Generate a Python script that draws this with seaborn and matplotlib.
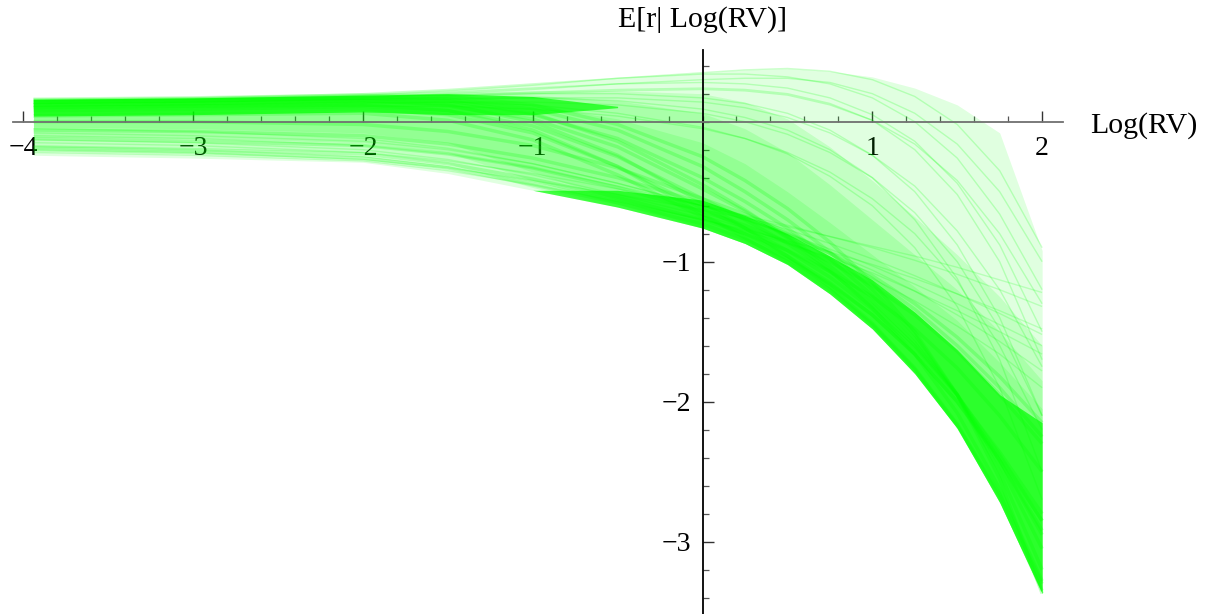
import numpy as np
import pandas as pd
import seaborn as sns
import matplotlib.pyplot as plt

log_rv = [-3.94, -3, -2, -1.5, -1, -0.5, 0, 0.25, 0.5, 0.75, 1, 1.25, 1.5, 1.75, 2]

# outline of the whole cloud of draws
envelope_top = [0.16, 0.17, 0.20, 0.23, 0.27, 0.31, 0.35, 0.37, 0.38, 0.36, 0.32, 0.24, 0.12, -0.08, -0.92]
envelope_bottom = [-0.24, -0.26, -0.29, -0.37, -0.49, -0.61, -0.76, -0.87, -1.02, -1.23, -1.48, -1.80, -2.19, -2.72, -3.37]

# where most draws lie, in three overlapping layers so the edge fades
body1_top = [0.16, 0.17, 0.19, 0.21, 0.22, 0.22, 0.20, 0.14, 0.02, -0.18, -0.42, -0.68, -0.95, -1.25, -1.60]
body1_bottom = [-0.18, -0.19, -0.22, -0.30, -0.47, -0.61, -0.76, -0.87, -1.02, -1.23, -1.48, -1.80, -2.19, -2.72, -3.37]
body2_top = [0.16, 0.17, 0.19, 0.20, 0.19, 0.15, 0.06, -0.05, -0.22, -0.45, -0.70, -0.95, -1.20, -1.50, -1.85]
body2_bottom = [-0.11, -0.12, -0.15, -0.22, -0.42, -0.59, -0.76, -0.87, -1.02, -1.23, -1.48, -1.80, -2.19, -2.72, -3.37]
body3_top = [0.16, 0.17, 0.18, 0.17, 0.12, 0.02, -0.15, -0.30, -0.50, -0.72, -0.95, -1.18, -1.42, -1.72, -2.05]
body3_bottom = [-0.04, -0.05, -0.08, -0.15, -0.36, -0.56, -0.76, -0.87, -1.02, -1.23, -1.48, -1.80, -2.19, -2.72, -3.37]

# saturated parts: flat top band on the left, lower band on the right
core_left_x = [-3.94, -3, -2, -1.5, -1, -0.5]
core_left_top = [0.16, 0.17, 0.19, 0.20, 0.18, 0.11]
core_left_bottom = [0.04, 0.05, 0.07, 0.05, 0.05, 0.10]
core_right_x = [-1, -0.5, 0, 0.25, 0.5, 0.75, 1, 1.25, 1.5, 1.75, 2]
core_right_top = [-0.49, -0.49, -0.56, -0.67, -0.80, -0.96, -1.13, -1.36, -1.63, -1.95, -2.15]
core_right_bottom = [-0.49, -0.61, -0.76, -0.87, -1.02, -1.23, -1.48, -1.80, -2.19, -2.72, -3.37]

# individual draws
dense_curves = [
    [0.16, 0.17, 0.19, 0.18, 0.12, -0.02, -0.25, -0.42, -0.62, -0.86, -1.15, -1.50, -1.95, -2.55, -3.37],
    [0.14, 0.15, 0.17, 0.16, 0.09, -0.06, -0.32, -0.50, -0.70, -0.93, -1.20, -1.52, -1.95, -2.50, -3.20],
    [0.12, 0.13, 0.15, 0.13, 0.05, -0.12, -0.40, -0.57, -0.76, -0.98, -1.24, -1.55, -1.95, -2.45, -3.05],
    [0.10, 0.11, 0.13, 0.11, 0.02, -0.18, -0.48, -0.64, -0.82, -1.03, -1.28, -1.58, -1.95, -2.42, -2.95],
    [0.08, 0.09, 0.11, 0.08, -0.03, -0.25, -0.55, -0.70, -0.87, -1.07, -1.31, -1.60, -1.95, -2.38, -2.85],
    [0.06, 0.07, 0.09, 0.05, -0.08, -0.32, -0.62, -0.76, -0.92, -1.11, -1.34, -1.62, -1.96, -2.36, -2.80],
    [0.04, 0.05, 0.06, 0.01, -0.13, -0.38, -0.68, -0.80, -0.96, -1.15, -1.38, -1.66, -2.00, -2.40, -2.85],
    [0.14, 0.15, 0.17, 0.15, 0.06, -0.14, -0.45, -0.63, -0.83, -1.06, -1.33, -1.66, -2.08, -2.62, -3.28],
    [0.12, 0.13, 0.15, 0.12, 0.00, -0.24, -0.58, -0.76, -0.96, -1.18, -1.44, -1.76, -2.16, -2.66, -3.30],
    [0.10, 0.11, 0.12, 0.08, -0.06, -0.32, -0.66, -0.83, -1.00, -1.20, -1.45, -1.77, -2.17, -2.68, -3.35],
    [-0.18, -0.20, -0.23, -0.30, -0.41, -0.54, -0.70, -0.80, -0.92, -1.07, -1.25, -1.48, -1.76, -2.10, -2.50],
    [-0.12, -0.14, -0.17, -0.23, -0.33, -0.47, -0.64, -0.74, -0.86, -1.00, -1.17, -1.38, -1.64, -1.95, -2.30],
    [-0.06, -0.07, -0.10, -0.16, -0.26, -0.40, -0.58, -0.68, -0.80, -0.94, -1.10, -1.30, -1.54, -1.82, -2.15],
    [0.00, 0.00, -0.02, -0.07, -0.17, -0.33, -0.55, -0.66, -0.79, -0.94, -1.12, -1.34, -1.60, -1.90, -2.25],
    [-0.20, -0.22, -0.26, -0.33, -0.45, -0.58, -0.73, -0.84, -0.98, -1.16, -1.38, -1.66, -2.00, -2.42, -2.92],
]

# sparse draws that bulge upwards before falling
fan_curves = [
    [0.15, 0.16, 0.19, 0.22, 0.26, 0.31, 0.35, 0.37, 0.38, 0.36, 0.30, 0.18, -0.02, -0.35, -0.90],
    [0.14, 0.15, 0.17, 0.20, 0.23, 0.27, 0.30, 0.31, 0.31, 0.28, 0.20, 0.06, -0.16, -0.50, -1.00],
    [0.13, 0.14, 0.16, 0.18, 0.20, 0.22, 0.23, 0.22, 0.19, 0.12, 0.01, -0.16, -0.42, -0.80, -1.30],
    [0.16, 0.17, 0.19, 0.21, 0.24, 0.27, 0.28, 0.27, 0.24, 0.17, 0.05, -0.14, -0.44, -0.88, -1.50],
    [0.12, 0.13, 0.15, 0.16, 0.17, 0.17, 0.14, 0.10, 0.03, -0.08, -0.24, -0.46, -0.78, -1.20, -1.75],
    [0.15, 0.16, 0.18, 0.19, 0.20, 0.20, 0.17, 0.13, 0.06, -0.06, -0.24, -0.50, -0.88, -1.40, -2.10],
    [0.10, 0.11, 0.13, 0.14, 0.14, 0.12, 0.06, 0.00, -0.09, -0.22, -0.40, -0.65, -1.00, -1.48, -2.10],
    [0.13, 0.14, 0.16, 0.17, 0.17, 0.15, 0.09, 0.03, -0.06, -0.20, -0.40, -0.70, -1.12, -1.70, -2.50],
    [0.08, 0.09, 0.11, 0.11, 0.09, 0.04, -0.05, -0.12, -0.22, -0.36, -0.55, -0.80, -1.14, -1.60, -2.20],
    [0.11, 0.12, 0.14, 0.14, 0.12, 0.06, -0.04, -0.12, -0.23, -0.39, -0.60, -0.90, -1.32, -1.90, -2.70],
    [0.16, 0.17, 0.20, 0.23, 0.27, 0.31, 0.34, 0.34, 0.32, 0.27, 0.17, 0.00, -0.26, -0.66, -1.20],
    [0.14, 0.15, 0.17, 0.19, 0.21, 0.23, 0.24, 0.23, 0.20, 0.13, 0.01, -0.20, -0.52, -1.00, -1.70],
]

# sparse draws that decline gently
gentle_curves = [
    [-0.20, -0.22, -0.27, -0.33, -0.42, -0.52, -0.63, -0.69, -0.75, -0.82, -0.89, -0.96, -1.04, -1.13, -1.22],
    [-0.15, -0.17, -0.22, -0.28, -0.37, -0.48, -0.60, -0.67, -0.74, -0.82, -0.90, -0.99, -1.09, -1.20, -1.32],
    [-0.22, -0.24, -0.28, -0.35, -0.45, -0.57, -0.70, -0.77, -0.85, -0.93, -1.02, -1.12, -1.23, -1.35, -1.48],
    [-0.10, -0.12, -0.17, -0.23, -0.33, -0.46, -0.60, -0.68, -0.77, -0.87, -0.98, -1.10, -1.23, -1.37, -1.52],
    [-0.18, -0.20, -0.25, -0.32, -0.43, -0.56, -0.70, -0.78, -0.87, -0.97, -1.08, -1.21, -1.35, -1.50, -1.66],
    [-0.05, -0.07, -0.12, -0.19, -0.30, -0.44, -0.60, -0.70, -0.81, -0.93, -1.06, -1.21, -1.38, -1.57, -1.78],
    [-0.13, -0.15, -0.20, -0.27, -0.38, -0.52, -0.67, -0.76, -0.86, -0.98, -1.12, -1.28, -1.46, -1.66, -1.90],
    [-0.08, -0.10, -0.14, -0.20, -0.30, -0.44, -0.60, -0.70, -0.80, -0.91, -1.03, -1.16, -1.30, -1.45, -1.60],
]

x_major = [-4, -3, -2, -1, 1, 2]
y_major = [-3, -2, -1]


def to_long(curves, name):
    rows = []
    for i, ys in enumerate(curves):
        for x, y in zip(log_rv, ys):
            rows.append({"x": x, "y": y, "curve": f"{name}{i}"})
    return pd.DataFrame(rows)


sns.set_style("white")
plt.rcParams["font.family"] = ["Liberation Serif", "DejaVu Serif"]
plt.rcParams["text.color"] = "black"
plt.rcParams["xtick.color"] = "black"
plt.rcParams["ytick.color"] = "black"

fig = plt.figure(figsize=(12.05, 6.14), dpi=100)
ax = fig.add_axes([0, 0, 1, 1])

green = "#00ff00"

# shaded density of the draws
ax.fill_between(log_rv, envelope_bottom, envelope_top, color=green, alpha=0.12, lw=0)
for lo, hi in [(body1_bottom, body1_top), (body2_bottom, body2_top), (body3_bottom, body3_top)]:
    ax.fill_between(log_rv, lo, hi, color=green, alpha=0.13, lw=0)
ax.fill_between(core_left_x, core_left_bottom, core_left_top, color=green, alpha=0.7, lw=0)
ax.fill_between(core_right_x, core_right_bottom, core_right_top, color=green, alpha=0.7, lw=0)

for curves, name, alpha, lw in [
    (gentle_curves, "g", 0.18, 1.0),
    (fan_curves, "f", 0.2, 1.0),
    (dense_curves, "d", 0.22, 2.5),
]:
    sns.lineplot(
        data=to_long(curves, name), x="x", y="y", units="curve",
        estimator=None, color=green, alpha=alpha, lw=lw, ax=ax,
        legend=False, solid_capstyle="butt",
    )

ax.set_xlim(-4.137, 2.959)
ax.set_ylim(-3.516, 0.869)
ax.set_xlabel("")
ax.set_ylabel("")

# axes through the origin
for side in ["top", "right"]:
    ax.spines[side].set_visible(False)
ax.spines["bottom"].set_position(("data", 0))
ax.spines["bottom"].set_bounds(-4.06, 2.12)
ax.spines["bottom"].set_color("#707070")
ax.spines["left"].set_position(("data", 0))
ax.spines["left"].set_bounds(-3.52, 0.51)
ax.spines["left"].set_color("black")
for sp in ax.spines.values():
    sp.set_linewidth(1.3)

ax.set_xticks(x_major)
ax.set_xticklabels([f"\u2212{abs(v)}" if v < 0 else str(v) for v in x_major])
ax.set_xticks(np.round(np.arange(-4, 2.01, 0.2), 2), minor=True)
ax.set_yticks(y_major)
ax.set_yticklabels([f"\u2212{abs(v)}" for v in y_major])
ax.set_yticks(np.round(np.arange(-3.4, 0.41, 0.2), 2), minor=True)

ax.tick_params(axis="both", which="both", bottom=True, left=True, direction="in")
ax.tick_params(axis="both", which="major", length=8, width=1.0,
               color="#333333", labelsize=20, pad=8)
ax.tick_params(axis="x", which="major", pad=10)
ax.tick_params(axis="both", which="minor", length=4.5, width=0.9, color="#555555")

ax.text(2.282, -0.03, "Log(RV)", fontsize=21.5, ha="left", va="center")
ax.text(0, 0.726, "E[r| Log(RV)]", fontsize=21.5, ha="center", va="center")

fig.savefig("out.png", dpi=100)
